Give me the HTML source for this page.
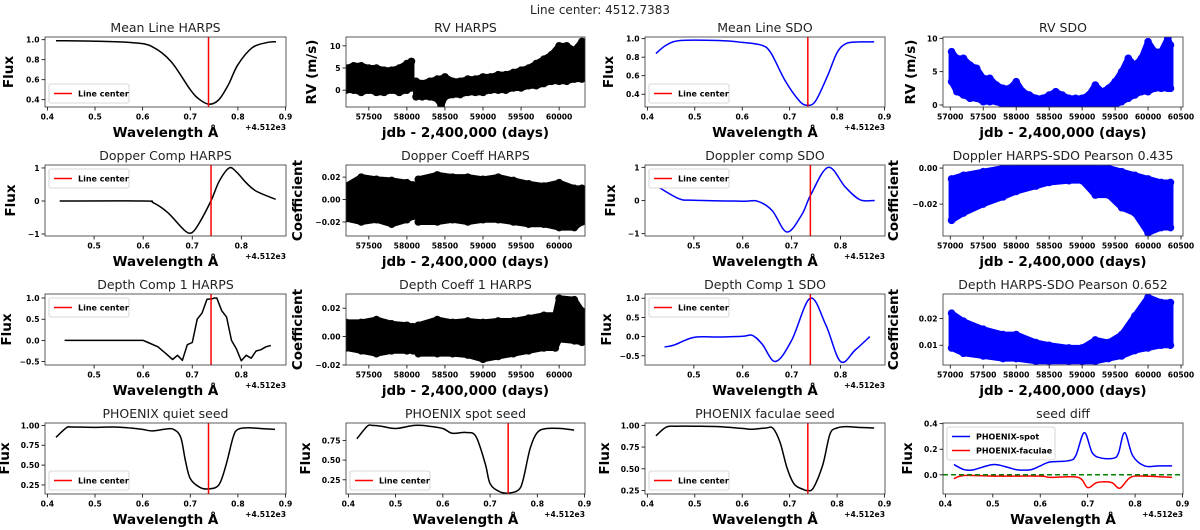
<!DOCTYPE html>
<html><head><meta charset="utf-8">
<style>
html,body{margin:0;padding:0;background:#fff;}
svg{display:block;font-family:"DejaVu Sans","Liberation Sans",sans-serif;}
.tick{font-size:7.6px;font-weight:bold;fill:#000;}
.ttl{font-size:12.5px;fill:#222;}
.lab{font-size:13.5px;font-weight:bold;fill:#000;}
.leg{font-size:8px;font-weight:bold;fill:#000;}
.off{font-size:7.6px;font-weight:bold;fill:#000;}
</style></head>
<body>
<svg id="fig" width="1200" height="530" viewBox="0 0 1200 530">
<text x="600" y="14" text-anchor="middle" style="font-size:12px" fill="#222">Line center: 4512.7383</text>
</svg>
<script>
// ---- data ----
const lineCenter = 0.7383;
const meanHarpsX = [0.418,0.5,0.58,0.62,0.66,0.70,0.72,0.74,0.76,0.78,0.80,0.83,0.86,0.88];
const meanHarpsY = [0.99,0.985,0.97,0.93,0.78,0.5,0.4,0.355,0.4,0.55,0.75,0.92,0.97,0.98];
const meanSdoX = [0.418,0.44,0.47,0.55,0.6,0.64,0.66,0.69,0.72,0.738,0.755,0.78,0.80,0.82,0.85,0.878];
const meanSdoY = [0.84,0.93,0.98,0.98,0.96,0.93,0.85,0.55,0.33,0.28,0.33,0.6,0.85,0.95,0.965,0.965];
const dopHarpsX = [0.43,0.6,0.62,0.65,0.685,0.70,0.715,0.738,0.755,0.775,0.79,0.81,0.83,0.87];
const dopHarpsY = [0,0,-0.05,-0.35,-0.9,-0.95,-0.65,0,0.6,1.0,0.88,0.55,0.3,0.05];
const dopSdoX = [0.43,0.47,0.5,0.6,0.63,0.66,0.69,0.72,0.74,0.775,0.81,0.84,0.87];
const dopSdoY = [0.38,0.05,0.01,-0.02,-0.02,-0.3,-0.95,-0.45,0.2,1.0,0.4,0.02,0.0];
const depHarpsX = [0.44,0.6,0.61,0.63,0.645,0.66,0.67,0.68,0.69,0.70,0.71,0.72,0.73,0.74,0.745,0.75,0.76,0.77,0.78,0.79,0.80,0.81,0.82,0.83,0.84,0.85,0.86];
const depHarpsY = [0,0,-0.05,-0.15,-0.3,-0.45,-0.35,-0.47,-0.1,-0.05,0.5,0.65,0.97,0.98,1.0,1.0,0.7,0.55,0,-0.2,-0.48,-0.35,-0.42,-0.25,-0.22,-0.15,-0.12];
const depSdoX = [0.44,0.46,0.5,0.55,0.6,0.62,0.64,0.667,0.7,0.738,0.77,0.8,0.83,0.86];
const depSdoY = [-0.27,-0.22,-0.02,-0.01,0.01,0.03,-0.2,-0.65,-0.1,1.0,0.3,-0.65,-0.35,0.0];
const quietX = [0.418,0.44,0.45,0.5,0.54,0.58,0.6,0.62,0.65,0.665,0.68,0.69,0.70,0.72,0.738,0.76,0.775,0.79,0.80,0.82,0.85,0.878];
const quietY = [0.85,0.97,0.98,0.975,0.98,0.965,0.95,0.93,0.955,0.95,0.85,0.55,0.33,0.22,0.2,0.25,0.5,0.85,0.95,0.97,0.96,0.95];
const spotX = [0.418,0.44,0.45,0.47,0.5,0.54,0.57,0.6,0.62,0.65,0.67,0.69,0.70,0.72,0.738,0.76,0.77,0.785,0.80,0.82,0.85,0.878];
const spotY = [0.77,0.93,0.94,0.93,0.9,0.94,0.93,0.9,0.84,0.85,0.8,0.45,0.2,0.1,0.08,0.12,0.25,0.65,0.85,0.9,0.9,0.88];
const facX = [0.418,0.44,0.46,0.5,0.55,0.6,0.62,0.65,0.665,0.68,0.695,0.71,0.73,0.738,0.75,0.77,0.785,0.80,0.82,0.85,0.878];
const facY = [0.88,0.98,0.99,0.99,0.985,0.965,0.955,0.97,0.965,0.8,0.5,0.32,0.26,0.25,0.28,0.55,0.9,0.97,0.985,0.975,0.97];
const diffSpotX = [0.418,0.44,0.46,0.5,0.53,0.55,0.58,0.6,0.62,0.66,0.675,0.693,0.71,0.73,0.755,0.765,0.778,0.795,0.82,0.85,0.878];
const diffSpotY = [0.08,0.04,0.04,0.08,0.06,0.04,0.04,0.07,0.1,0.11,0.15,0.33,0.17,0.13,0.13,0.17,0.33,0.15,0.07,0.07,0.07];
const diffFacX = [0.418,0.44,0.5,0.6,0.62,0.68,0.70,0.72,0.75,0.768,0.79,0.82,0.878];
const diffFacY = [-0.03,-0.005,-0.01,-0.01,-0.02,-0.02,-0.1,-0.06,-0.06,-0.105,-0.02,-0.01,-0.02];

const rvHT = [57200,57300,57400,57500,57600,57700,57800,57900,58000,58060,null,58120,58200,58300,58400,58450,58500,58600,58700,58800,58900,59000,59100,59200,59300,59400,59500,59600,59700,59800,59900,60000,60100,60200,60300];
const rvHHi = [5,5.5,5.5,5,5,4.5,4.5,5,6,6.5,null,2,1.5,2,2.5,2.5,3,2,2,2.5,2.5,3,3,3.5,3.5,4,4.5,5,6,7,8,10,10,9,11];
const rvHLo = [0,0,-0.5,0,-0.5,-0.5,0,-0.5,0,0.5,null,-1.5,-1.5,-1.5,-2,-3.5,-1.5,-1,-1,-0.5,-0.5,-0.5,0,0,0,0.5,0.5,1,1,1.5,2,2,2,2.5,2.5];
const sdoT = [57020,57100,57200,57300,57400,57500,57600,57700,57800,57900,58000,58100,58200,58300,58400,58500,58600,58700,58800,58900,59000,59100,59200,59300,59400,59500,59600,59700,59800,59900,60000,60100,60200,60300,60340];
const rvSHi = [8,7,7,6,5.5,4,4,3,2.5,2.5,3.5,2,1.5,1,1,1.5,2,1.5,1,1,1,1.5,3,2,2.5,3.5,5,7,6,7,9.5,8,8,10,9];
const rvSLo = [3.5,2,1.5,1,1,0.5,0.5,0.5,0,0,0,0,0,0,0,0,0,0,0,0,0,0,0,0,0,0,0.5,1,1.5,2,2,2.5,2.5,2.5,2.5];
const dcHT = [57200,57400,57600,57800,58000,58080,null,58150,58400,58600,58800,59000,59200,59400,59600,59800,60000,60200,60300];
const dcHHi = [0.012,0.02,0.018,0.017,0.015,0.013,null,0.018,0.022,0.02,0.02,0.018,0.02,0.017,0.014,0.012,0.015,0.01,0.01];
const dcHLo = [-0.017,-0.02,-0.018,-0.022,-0.018,-0.015,null,-0.02,-0.02,-0.018,-0.02,-0.018,-0.018,-0.02,-0.022,-0.022,-0.025,-0.025,-0.02];
const dpST = [57020,57200,57500,57800,58000,58300,58500,58800,59000,59200,59400,59600,59800,60000,60200,60340];
const dpSHi = [-0.006,-0.004,-0.002,0,0,0.001,0.001,0.001,0.001,0,0,-0.002,-0.004,-0.006,-0.008,-0.008];
const dpSLo = [-0.029,-0.025,-0.02,-0.016,-0.013,-0.01,-0.008,-0.007,-0.007,-0.015,-0.015,-0.022,-0.025,-0.036,-0.033,-0.033];
const depCT = [57200,57400,57600,57800,58000,58080,null,58150,58400,58600,58800,59000,59200,59400,59600,59800,59950,60000,60200,60300];
const depCHi = [0.01,0.01,0.012,0.009,0.008,0.007,null,0.008,0.012,0.01,0.011,0.01,0.011,0.011,0.013,0.015,0.015,0.027,0.026,0.018];
const depCLo = [-0.008,-0.01,-0.012,-0.01,-0.01,-0.01,null,-0.012,-0.012,-0.012,-0.013,-0.016,-0.014,-0.012,-0.01,-0.008,-0.008,-0.002,-0.003,-0.004];
const dsT = [57020,57200,57500,57800,58000,58300,58500,58800,59000,59200,59400,59600,59800,60000,60200,60340];
const dsHi = [0.022,0.019,0.016,0.014,0.014,0.011,0.01,0.009,0.009,0.012,0.011,0.014,0.021,0.028,0.026,0.026];
const dsLo = [0.009,0.007,0.006,0.005,0.005,0.004,0.004,0.004,0.004,0.004,0.005,0.006,0.008,0.009,0.01,0.01];

// ---- layout ----
const NS="http://www.w3.org/2000/svg";
const fig=document.getElementById('fig');
const COLS=[[45,286],[346,585],[645,885],[943,1183]];
const ROWS=[[37,107],[165,236],[294,365],[423,494]];
function el(tag,attrs,parent){const e=document.createElementNS(NS,tag);for(const k in attrs)e.setAttribute(k,attrs[k]);(parent||fig).appendChild(e);return e;}
function fmt(v,d){let s=v.toFixed(d);if(v<0)s='\u2212'+(-v).toFixed(d);return s;}
function smoothPath(P){
  if(P.length<3)return P.map((p,i)=>(i?'L':'M')+p[0]+','+p[1]).join('');
  let d='M'+P[0][0].toFixed(1)+','+P[0][1].toFixed(1);
  for(let i=0;i<P.length-1;i++){
    const p0=P[i-1]||P[i],p1=P[i],p2=P[i+1],p3=P[i+2]||P[i+1];
    const c1=[p1[0]+(p2[0]-p0[0])/6,p1[1]+(p2[1]-p0[1])/6];
    const c2=[p2[0]-(p3[0]-p1[0])/6,p2[1]-(p3[1]-p1[1])/6];
    d+='C'+c1.map(v=>v.toFixed(1)).join(',')+' '+c2.map(v=>v.toFixed(1)).join(',')+' '+p2[0].toFixed(1)+','+p2[1].toFixed(1);
  }
  return d;
}

function panel(c){
  const [x0,x1]=COLS[c.col],[y0,y1]=ROWS[c.row];
  const g=el('g',{});
  
  
  const sx=v=>x0+(v-c.xlim[0])/(c.xlim[1]-c.xlim[0])*(x1-x0);
  const sy=v=>y1-(v-c.ylim[0])/(c.ylim[1]-c.ylim[0])*(y1-y0);
  const clipId='clip-'+c.name;
  const cp=el('clipPath',{id:clipId},g);el('rect',{x:x0,y:y0,width:x1-x0,height:y1-y0},cp);
  const plot=el('g',{'clip-path':'url(#'+clipId+')'},g);
  (c.bands||[]).forEach(b=>{
    let segs=[],cur=[];
    b.t.forEach((t,i)=>{if(t===null){segs.push(cur);cur=[];}else cur.push(i);});segs.push(cur);
    segs.forEach(s=>{
      if(!s.length)return;
      const pts=s.map(i=>sx(b.t[i])+','+sy(b.hi[i])).concat(s.slice().reverse().map(i=>sx(b.t[i])+','+sy(b.lo[i])));
      const p=el('polygon',{points:pts.join(' '),fill:b.color,stroke:b.color,'stroke-width':6,'stroke-linejoin':'round'},plot);
      
      
      s.forEach(i=>{
        const a=el('circle',{cx:sx(b.t[i]),cy:sy(b.hi[i]),r:3.8,fill:b.color},plot);
        
        
        const z=el('circle',{cx:sx(b.t[i]),cy:sy(b.lo[i]),r:3.8,fill:b.color},plot);
        
        
      });
    });
  });
  (c.lines||[]).forEach(l=>{
    const P=l.x.map((v,i)=>[sx(v),sy(l.y[i])]);
    const d=l.linear?P.map((p,i)=>(i?'L':'M')+p[0].toFixed(1)+','+p[1].toFixed(1)).join(''):smoothPath(P);
    const p=el('path',{d:d,fill:'none',stroke:l.color,'stroke-width':1.5,'stroke-linejoin':'round'},plot);
    
    
  });
  if(c.hline!==undefined){
    const p=el('line',{x1:x0,x2:x1,y1:sy(c.hline),y2:sy(c.hline),stroke:'green','stroke-width':1.5,'stroke-dasharray':'5,3'},plot);
    
    
  }
  if(c.vline){
    const p=el('line',{x1:sx(lineCenter),x2:sx(lineCenter),y1:y0,y2:y1,stroke:'red','stroke-width':1.5},plot);
    
    
  }
  const fr=el('rect',{x:x0,y:y0,width:x1-x0,height:y1-y0,fill:'none',stroke:'#333','stroke-width':0.8},g);
  
  
  c.xticks.forEach(v=>{
    const X=sx(v);el('line',{x1:X,x2:X,y1:y1,y2:y1+3.5,stroke:'#000','stroke-width':0.8},g);
    const t=el('text',{x:X,y:y1+12.5,'text-anchor':'middle',class:'tick'},g);t.textContent=c.xfmt(v);
    
    
  });
  c.yticks.forEach(v=>{
    const Y=sy(v);el('line',{x1:x0-3.5,x2:x0,y1:Y,y2:Y,stroke:'#000','stroke-width':0.8},g);
    const t=el('text',{x:x0-5.5,y:Y+3,'text-anchor':'end',class:'tick'},g);t.textContent=fmt(v,c.ydec);
    
    
  });
  const tt=el('text',{x:(x0+x1)/2,y:y0-5,'text-anchor':'middle',class:'ttl'},g);tt.textContent=c.title;
  
  
  const xl=el('text',{x:(x0+x1)/2,y:y1+30,'text-anchor':'middle',class:'lab'},g);xl.textContent=c.xlabel;
  
  
  const lx=x0-c.yoff,ly=(y0+y1)/2;
  const yl=el('text',{x:lx,y:ly,'text-anchor':'middle',class:'lab',transform:'rotate(-90 '+lx+' '+ly+')'},g);yl.textContent=c.ylabel;
  
  
  if(c.offset){const o=el('text',{x:x1,y:y1+23,'text-anchor':'end',class:'off'},g);o.textContent='+4.512e3';
    
    }
  if(c.legend){
    const items=c.legend.items,w=c.legend.w,h=5+items.length*14;
    const lxp=x0+4,lyp=c.legend.pos==='top'?y0+4:y1-4-h;
    const lg=el('g',{},g);
    
    
    el('rect',{x:lxp,y:lyp,width:w,height:h,rx:2,fill:'#fff','fill-opacity':0.85,stroke:'#ccc','stroke-width':0.8},lg);
    items.forEach((it,i)=>{const yy=lyp+9.5+i*14;
      el('line',{x1:lxp+5,x2:lxp+23,y1:yy,y2:yy,stroke:it.color,'stroke-width':1.5},lg);
      const t=el('text',{x:lxp+29,y:yy+3,class:'leg'},lg);t.textContent=it.label;
      
      });
  }
}
const wl=v=>v.toFixed(1);
const jd=v=>String(v);
const LC={items:[{label:'Line center',color:'red'}],w:80};
const W1=[0.4,0.5,0.6,0.7,0.8,0.9],W2=[0.5,0.6,0.7,0.8];
const T1=[57500,58000,58500,59000,59500,60000],T2=[57000,57500,58000,58500,59000,59500,60000,60500];
const WL='Wavelength \u00C5',JD='jdb - 2,400,000 (days)';
const XA=[0.395,0.901],XB=[0.40,0.891],TA=[57200,60340],TB=[56890,60530];

panel({name:'mean-line-harps',col:0,row:0,xlim:XA,ylim:[0.327,1.027],xticks:W1,xfmt:wl,yticks:[0.4,0.6,0.8,1.0],ydec:1,title:'Mean Line HARPS',xlabel:WL,ylabel:'Flux',yoff:32,offset:1,vline:1,lines:[{name:'mean-line-curve',x:meanHarpsX,y:meanHarpsY,color:'#000'}],legend:Object.assign({pos:'bottom'},LC)});
panel({name:'rv-harps',col:1,row:0,xlim:TA,ylim:[-3.8,12],xticks:T1,xfmt:jd,yticks:[0,5,10],ydec:0,title:'RV HARPS',xlabel:JD,ylabel:'RV (m/s)',yoff:30,bands:[{t:rvHT,hi:rvHHi,lo:rvHLo,color:'#000'}]});
panel({name:'mean-line-sdo',col:2,row:0,xlim:XA,ylim:[0.262,1.018],xticks:W1,xfmt:wl,yticks:[0.4,0.6,0.8,1.0],ydec:1,title:'Mean Line SDO',xlabel:WL,ylabel:'Flux',yoff:32,offset:1,vline:1,lines:[{name:'mean-line-curve',x:meanSdoX,y:meanSdoY,color:'blue'}],legend:Object.assign({pos:'bottom'},LC)});
panel({name:'rv-sdo',col:3,row:0,xlim:TB,ylim:[-0.3,10.2],xticks:T2,xfmt:jd,yticks:[0,5,10],ydec:0,title:'RV SDO',xlabel:JD,ylabel:'RV (m/s)',yoff:28,bands:[{t:sdoT,hi:rvSHi,lo:rvSLo,color:'blue'}]});

panel({name:'doppler-comp-harps',col:0,row:1,xlim:XB,ylim:[-1.06,1.09],xticks:W2,xfmt:wl,yticks:[-1,0,1],ydec:0,title:'Dopper Comp HARPS',xlabel:WL,ylabel:'Flux',yoff:30,offset:1,vline:1,lines:[{name:'doppler-curve',x:dopHarpsX,y:dopHarpsY,color:'#000'}],legend:Object.assign({pos:'top'},LC)});
panel({name:'doppler-coeff-harps',col:1,row:1,xlim:TA,ylim:[-0.0325,0.0308],xticks:T1,xfmt:jd,yticks:[-0.02,0,0.02],ydec:2,title:'Dopper Coeff HARPS',xlabel:JD,ylabel:'Coefficient',yoff:44,bands:[{t:dcHT,hi:dcHHi,lo:dcHLo,color:'#000'}]});
panel({name:'doppler-comp-sdo',col:2,row:1,xlim:XB,ylim:[-1.07,1.07],xticks:W2,xfmt:wl,yticks:[-1,0,1],ydec:0,title:'Doppler comp SDO',xlabel:WL,ylabel:'Flux',yoff:30,offset:1,vline:1,lines:[{name:'doppler-curve',x:dopSdoX,y:dopSdoY,color:'blue'}],legend:Object.assign({pos:'top'},LC)});
panel({name:'doppler-pearson',col:3,row:1,xlim:TB,ylim:[-0.0377,0.0017],xticks:T2,xfmt:jd,yticks:[-0.02,0],ydec:2,title:'Doppler HARPS-SDO Pearson 0.435',xlabel:JD,ylabel:'Coefficient',yoff:45,bands:[{t:dpST,hi:dpSHi,lo:dpSLo,color:'blue'}]});

panel({name:'depth-comp-harps',col:0,row:2,xlim:XB,ylim:[-0.58,1.095],xticks:W2,xfmt:wl,yticks:[-0.5,0,0.5,1.0],ydec:1,title:'Depth Comp 1 HARPS',xlabel:WL,ylabel:'Flux',yoff:34,offset:1,vline:1,lines:[{name:'depth-curve',x:depHarpsX,y:depHarpsY,color:'#000',linear:1}],legend:Object.assign({pos:'top'},LC)});
panel({name:'depth-coeff-harps',col:1,row:2,xlim:TA,ylim:[-0.02,0.030],xticks:T1,xfmt:jd,yticks:[-0.02,0,0.02],ydec:2,title:'Depth Coeff 1 HARPS',xlabel:JD,ylabel:'Coefficient',yoff:44,bands:[{t:depCT,hi:depCHi,lo:depCLo,color:'#000'}]});
panel({name:'depth-comp-sdo',col:2,row:2,xlim:XB,ylim:[-0.74,1.11],xticks:W2,xfmt:wl,yticks:[-0.5,0,0.5,1.0],ydec:1,title:'Depth Comp 1 SDO',xlabel:WL,ylabel:'Flux',yoff:34,offset:1,vline:1,lines:[{name:'depth-curve',x:depSdoX,y:depSdoY,color:'blue'}],legend:Object.assign({pos:'top'},LC)});
panel({name:'depth-pearson',col:3,row:2,xlim:TB,ylim:[0.0026,0.0292],xticks:T2,xfmt:jd,yticks:[0.01,0.02],ydec:2,title:'Depth HARPS-SDO Pearson 0.652',xlabel:JD,ylabel:'Coefficient',yoff:45,bands:[{t:dsT,hi:dsHi,lo:dsLo,color:'blue'}]});

panel({name:'phoenix-quiet',col:0,row:3,xlim:XA,ylim:[0.136,1.03],xticks:W1,xfmt:wl,yticks:[0.25,0.5,0.75,1.0],ydec:2,title:'PHOENIX quiet seed',xlabel:WL,ylabel:'Flux',yoff:36,offset:1,vline:1,lines:[{name:'quiet-curve',x:quietX,y:quietY,color:'#000'}],legend:Object.assign({pos:'bottom'},LC)});
panel({name:'phoenix-spot',col:1,row:3,xlim:XA,ylim:[0.07,0.97],xticks:W1,xfmt:wl,yticks:[0.25,0.5,0.75],ydec:2,title:'PHOENIX spot seed',xlabel:WL,ylabel:'Flux',yoff:36,offset:1,vline:1,lines:[{name:'spot-curve',x:spotX,y:spotY,color:'#000'}],legend:Object.assign({pos:'bottom'},LC)});
panel({name:'phoenix-faculae',col:2,row:3,xlim:XA,ylim:[0.21,1.027],xticks:W1,xfmt:wl,yticks:[0.25,0.5,0.75,1.0],ydec:2,title:'PHOENIX faculae seed',xlabel:WL,ylabel:'Flux',yoff:36,offset:1,vline:1,lines:[{name:'faculae-curve',x:facX,y:facY,color:'#000'}],legend:Object.assign({pos:'bottom'},LC)});
panel({name:'seed-diff',col:3,row:3,xlim:XA,ylim:[-0.15,0.405],xticks:W1,xfmt:wl,yticks:[0,0.2,0.4],ydec:1,title:'seed diff',xlabel:WL,ylabel:'Flux',yoff:31,offset:1,hline:0,lines:[{name:'phoenix-spot-diff',x:diffSpotX,y:diffSpotY,color:'blue'},{name:'phoenix-faculae-diff',x:diffFacX,y:diffFacY,color:'red'}],legend:{pos:'top',w:108,items:[{label:'PHOENIX-spot',color:'blue'},{label:'PHOENIX-faculae',color:'red'}]}});
</script>
</body></html>
